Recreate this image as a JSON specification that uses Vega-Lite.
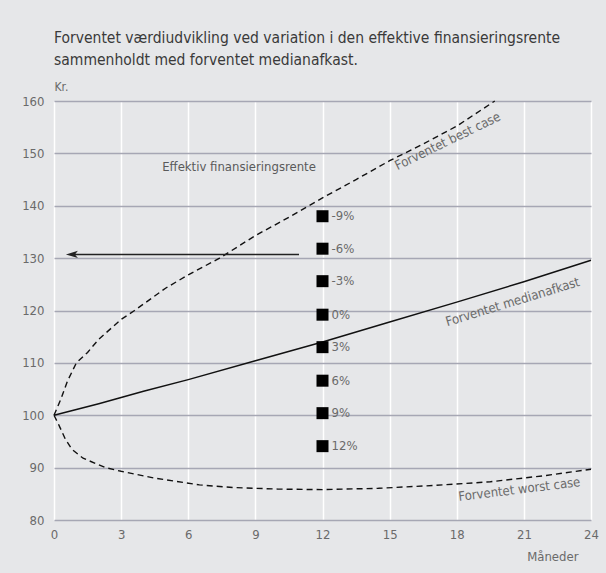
{
  "$schema": "https://vega.github.io/schema/vega-lite/v6.json",
  "width": 537,
  "height": 419,
  "autosize": {"type": "none"},
  "padding": {"left": 54, "top": 101, "right": 15, "bottom": 53},
  "background": "#e6e7e9",
  "config": {
    "view": {"stroke": null},
    "font": "Liberation Sans Narrow, DejaVu Sans Condensed, sans-serif"
  },
  "title": {
    "text": ["Forventet værdiudvikling ved variation i den effektive finansieringsrente", "sammenholdt med forventet medianafkast."],
    "anchor": "start",
    "frame": "group",
    "fontSize": 15.5,
    "fontWeight": "normal",
    "color": "#3a3a3a",
    "lineHeight": 22,
    "offset": 12
  },
  "datasets": {
    "curves": [
      {"s": "median", "x": 0, "y": 100}, {"s": "median", "x": 1, "y": 101.1}, {"s": "median", "x": 2, "y": 102.2}, {"s": "median", "x": 3, "y": 103.4}, {"s": "median", "x": 4, "y": 104.6}, {"s": "median", "x": 6, "y": 106.8}, {"s": "median", "x": 9, "y": 110.4}, {"s": "median", "x": 12, "y": 114.0}, {"s": "median", "x": 15, "y": 117.8}, {"s": "median", "x": 18, "y": 121.6}, {"s": "median", "x": 21, "y": 125.5}, {"s": "median", "x": 24, "y": 129.6},
      {"s": "best", "x": 0, "y": 100}, {"s": "best", "x": 0.3, "y": 103}, {"s": "best", "x": 0.6, "y": 106.5}, {"s": "best", "x": 1, "y": 110}, {"s": "best", "x": 1.5, "y": 112}, {"s": "best", "x": 2, "y": 114.5}, {"s": "best", "x": 3, "y": 118.3}, {"s": "best", "x": 3.6, "y": 120}, {"s": "best", "x": 5, "y": 124.3}, {"s": "best", "x": 6, "y": 126.8}, {"s": "best", "x": 7.4, "y": 130}, {"s": "best", "x": 9, "y": 134.3}, {"s": "best", "x": 10.5, "y": 137.8}, {"s": "best", "x": 12, "y": 141.5}, {"s": "best", "x": 13.5, "y": 145}, {"s": "best", "x": 15, "y": 148.6}, {"s": "best", "x": 16.5, "y": 151.8}, {"s": "best", "x": 18, "y": 155.2}, {"s": "best", "x": 19.7, "y": 160},
      {"s": "worst", "x": 0, "y": 100}, {"s": "worst", "x": 0.2, "y": 98.3}, {"s": "worst", "x": 0.5, "y": 95.5}, {"s": "worst", "x": 0.8, "y": 93.5}, {"s": "worst", "x": 1.3, "y": 91.8}, {"s": "worst", "x": 2.3, "y": 90}, {"s": "worst", "x": 3, "y": 89.3}, {"s": "worst", "x": 4.5, "y": 88}, {"s": "worst", "x": 6.5, "y": 86.7}, {"s": "worst", "x": 8, "y": 86.2}, {"s": "worst", "x": 10, "y": 85.9}, {"s": "worst", "x": 12, "y": 85.8}, {"s": "worst", "x": 14.5, "y": 86.05}, {"s": "worst", "x": 17, "y": 86.6}, {"s": "worst", "x": 19.5, "y": 87.3}, {"s": "worst", "x": 22, "y": 88.5}, {"s": "worst", "x": 24, "y": 89.7}
    ],
    "squares": [
      {"x": 12, "y": 138.0, "label": "-9%"},
      {"x": 12, "y": 131.8, "label": "-6%"},
      {"x": 12, "y": 125.6, "label": "-3%"},
      {"x": 12, "y": 119.2, "label": "0%"},
      {"x": 12, "y": 113.0, "label": "3%"},
      {"x": 12, "y": 106.6, "label": "6%"},
      {"x": 12, "y": 100.4, "label": "9%"},
      {"x": 12, "y": 94.1, "label": "12%"}
    ],
    "arrow": [
      {"x": 10.95, "y": 130.7},
      {"x": 0.8, "y": 130.7}
    ],
    "arrowhead": [
      {"x": 0.8, "y": 130.7}
    ],
    "note": [
      {"x": 8.27, "y": 147.4, "label": "Effektiv finansieringsrente"}
    ],
    "bestlabel": [{"x": 17.6, "y": 152.3, "label": "Forventet best case"}],
    "medlabel": [{"x": 20.5, "y": 121.6, "label": "Forventet medianafkast"}],
    "worstlabel": [{"x": 20.8, "y": 85.8, "label": "Forventet worst case"}]
  },
  "encoding": {
    "x": {
      "field": "x",
      "type": "quantitative",
      "scale": {"domain": [0, 24], "nice": false, "zero": false},
      "axis": {
        "values": [0, 3, 6, 9, 12, 15, 18, 21, 24],
        "grid": true,
        "gridColor": "#ffffff",
        "gridWidth": 1.5,
        "domain": false,
        "ticks": false,
        "labelPadding": 8,
        "labelFontSize": 13,
        "labelColor": "#6a6a6a",
        "labelFlush": false,
        "title": "Måneder",
        "titleAlign": "right",
        "titleAnchor": "end",
        "titleBaseline": "alphabetic",
        "titleX": 524,
        "titleY": 40,
        "titleFontSize": 13,
        "titleFontWeight": "normal",
        "titleColor": "#6a6a6a"
      }
    },
    "y": {
      "field": "y",
      "type": "quantitative",
      "scale": {"domain": [80, 160], "nice": false, "zero": false},
      "axis": {
        "values": [80, 90, 100, 110, 120, 130, 140, 150, 160],
        "grid": true,
        "gridColor": "#a6a7b4",
        "gridWidth": 1.5,
        "domain": false,
        "ticks": false,
        "labelPadding": 10,
        "labelFontSize": 13,
        "labelColor": "#6a6a6a",
        "title": "Kr.",
        "titleAngle": 0,
        "titleAlign": "left",
        "titleBaseline": "alphabetic",
        "titleX": 0,
        "titleY": -11,
        "titleFontSize": 12,
        "titleFontWeight": "normal",
        "titleColor": "#6a6a6a"
      }
    }
  },
  "layer": [
    {
      "data": {"name": "curves"},
      "transform": [{"filter": "datum.s === 'median'"}],
      "mark": {"type": "line", "color": "#111111", "strokeWidth": 1.5},
      "encoding": {}
    },
    {
      "data": {"name": "curves"},
      "transform": [{"filter": "datum.s !== 'median'"}],
      "mark": {"type": "line", "color": "#111111", "strokeWidth": 1.4, "strokeDash": [6, 4]},
      "encoding": {"detail": {"field": "s"}}
    },
    {
      "data": {"name": "arrow"},
      "mark": {"type": "line", "color": "#222222", "strokeWidth": 1.6},
      "encoding": {}
    },
    {
      "data": {"name": "arrowhead"},
      "mark": {"type": "point", "shape": "M -1 0 L 1 -0.6 L 0.5 0 L 1 0.6 Z", "size": 144, "filled": true, "color": "#222222", "opacity": 1},
      "encoding": {}
    },
    {
      "data": {"name": "squares"},
      "mark": {"type": "square", "size": 144, "color": "#000000", "opacity": 1},
      "encoding": {}
    },
    {
      "data": {"name": "squares"},
      "mark": {"type": "text", "align": "left", "baseline": "middle", "dx": 9, "fontSize": 13, "color": "#6a6a6a"},
      "encoding": {"text": {"field": "label"}}
    },
    {
      "data": {"name": "note"},
      "mark": {"type": "text", "align": "center", "baseline": "middle", "fontSize": 13, "color": "#5a5a5a"},
      "encoding": {"text": {"field": "label"}}
    },
    {
      "data": {"name": "bestlabel"},
      "mark": {"type": "text", "align": "center", "baseline": "middle", "fontSize": 13, "color": "#6a6a6a", "angle": 334},
      "encoding": {"text": {"field": "label"}}
    },
    {
      "data": {"name": "medlabel"},
      "mark": {"type": "text", "align": "center", "baseline": "middle", "fontSize": 13, "color": "#6a6a6a", "angle": 343},
      "encoding": {"text": {"field": "label"}}
    },
    {
      "data": {"name": "worstlabel"},
      "mark": {"type": "text", "align": "center", "baseline": "middle", "fontSize": 13, "color": "#6a6a6a", "angle": 353},
      "encoding": {"text": {"field": "label"}}
    }
  ]
}
